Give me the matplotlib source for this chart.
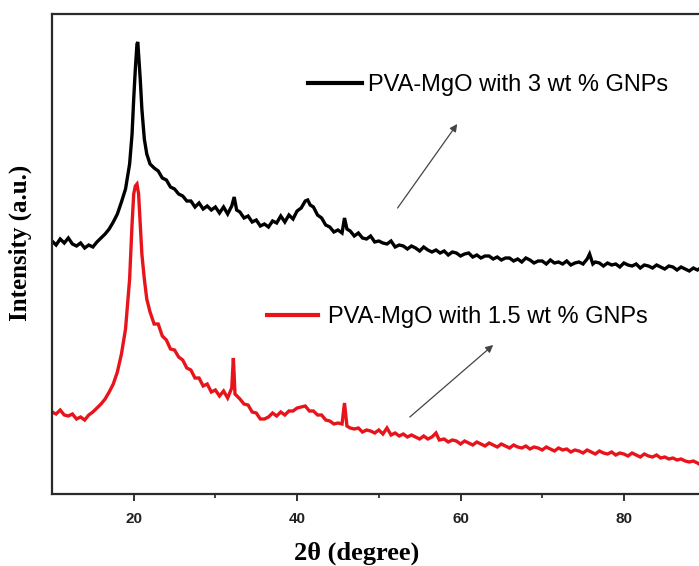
import matplotlib
matplotlib.use("Agg")
import matplotlib.pyplot as plt
from matplotlib.lines import Line2D

# ---------------- data ----------------
two_theta_3 = [10, 10.5, 11, 11.5, 12, 12.5, 13, 13.5, 14, 14.5, 15, 15.5, 16, 16.5, 17, 17.5,
               18, 18.5, 19, 19.5, 19.8, 20.0, 20.2, 20.4, 20.5, 20.6, 20.8, 21.0, 21.3, 21.6,
               22.0, 22.5, 23.0, 23.5, 24.0, 24.5, 25.0, 25.5, 26.0, 26.5, 27.0, 27.5, 28.0,
               28.5, 29.0, 29.5, 30.0, 30.5, 31.0, 31.5, 32.0, 32.3, 32.6, 33.0, 33.5, 34.0,
               34.5, 35.0, 35.5, 36.0, 36.5, 37.0, 37.5, 38.0, 38.5, 39.0, 39.5, 40.0, 40.5,
               41.0, 41.3, 41.6, 42.0, 42.5, 43.0, 43.5, 44.0, 44.5, 45.0, 45.5, 45.8, 46.1,
               46.5, 47.0, 47.5,
               48, 48.5, 49, 49.5, 50, 50.5, 51, 51.5, 52, 52.5, 53, 53.5, 54, 54.5, 55, 55.5,
               56, 56.5, 57, 57.5, 58, 58.5, 59, 59.5, 60, 60.5, 61, 61.5, 62, 62.5, 63, 63.5,
               64, 64.5, 65, 65.5, 66, 66.5, 67, 67.5, 68, 68.5, 69, 69.5, 70, 70.5, 71, 71.5,
               72, 72.5, 73, 73.5, 74, 74.5, 75, 75.5, 75.8, 76.2, 76.5, 77, 77.5, 78, 78.5,
               79, 79.5, 80, 80.5, 81, 81.5, 82, 82.5, 83, 83.5, 84, 84.5, 85, 85.5, 86, 86.5,
               87, 87.5, 88, 88.5, 89, 89.2]
intensity_3 = [253, 249, 255, 251, 256, 250, 248, 251, 246, 249, 247, 252, 256, 260, 265, 272,
               280, 292, 305, 330, 360, 395, 425, 450, 452, 440, 415, 385, 355, 340,
               330, 326, 323, 316, 314, 307, 305, 300, 298, 293, 293, 287, 291,
               285, 288, 284, 287, 281, 287, 280, 288, 297, 284, 282, 276, 278,
               272, 274, 268, 270, 267, 273, 271, 278, 272, 279, 275, 283, 286,
               293, 294, 289, 287, 279, 276, 269, 267, 262, 264, 261, 276, 265,
               263, 258, 261,
               256, 255, 258, 252, 253, 251, 250, 253, 247, 249, 248, 245, 248, 246, 243, 247,
               244, 242, 244, 241, 243, 239, 242, 241, 238, 240, 241, 237, 239, 236, 238, 238,
               235, 237, 234, 236, 236, 233, 235, 232, 236, 234, 231, 233, 233, 230, 234, 231,
               232, 230, 233, 229, 231, 232, 230, 235, 240, 230, 232, 231, 228, 231, 229,
               230, 227, 231, 229, 228, 230, 226, 229, 228, 226, 229, 227, 225, 228, 227, 224,
               227, 225, 223, 226, 224, 225]

two_theta_15 = [10, 10.5, 11, 11.5, 12, 12.5, 13, 13.5, 14, 14.5, 15, 15.5, 16, 16.5, 17, 17.5,
                18, 18.5, 19, 19.5, 19.8, 20.0, 20.2, 20.4, 20.6, 20.8, 21.0, 21.3, 21.6,
                22.0, 22.5, 23.0, 23.5, 24.0, 24.5, 25.0, 25.5, 26.0, 26.5, 27.0, 27.5, 28.0,
                28.5, 29.0, 29.5, 30.0, 30.5, 31.0, 31.5, 32.0, 32.2, 32.4, 33.0, 33.5, 34.0,
                34.5, 35.0, 35.5, 36.0, 36.5, 37.0, 37.5, 38.0, 38.5, 39.0, 39.5, 40.0, 40.5,
                41.0, 41.5, 42.0, 42.5, 43.0, 43.5, 44.0, 44.5, 45.0, 45.5, 45.8, 46.1, 46.5,
                47, 47.5, 48, 48.5, 49, 49.5, 50, 50.5, 51, 51.5, 52, 52.5, 53, 53.5, 54, 54.5,
                55, 55.5, 56, 56.5, 57.0, 57.4, 58, 58.5, 59, 59.5, 60, 60.5, 61, 61.5, 62, 62.5,
                63, 63.5, 64, 64.5, 65, 65.5, 66, 66.5, 67, 67.5, 68, 68.5, 69, 69.5, 70, 70.5,
                71, 71.5, 72, 72.5, 73, 73.5, 74, 74.5, 75, 75.5, 76, 76.5, 77, 77.5, 78, 78.5,
                79, 79.5, 80, 80.5, 81, 81.5, 82, 82.5, 83, 83.5, 84, 84.5, 85, 85.5, 86, 86.5,
                87, 87.5, 88, 88.5, 89, 89.2]
intensity_15 = [82, 80, 84, 79, 78, 80, 75, 77, 74, 79, 82, 86, 90, 95, 102, 110,
                122, 140, 165, 215, 270, 300, 308, 310, 300, 270, 240, 215, 195,
                182, 170, 170, 158, 154, 145, 144, 137, 134, 126, 124, 116, 116,
                108, 110, 102, 104, 98, 103, 96, 106, 136, 100, 95, 90, 89,
                82, 81, 75, 75, 77, 81, 78, 82, 79, 83, 83, 86, 87,
                88, 83, 83, 79, 79, 74, 73, 70, 71, 70, 91, 68, 66,
                65, 66, 62, 64, 63, 61, 64, 60, 66, 59, 61, 58, 60, 57, 59, 57,
                55, 58, 55, 57, 61, 54, 55, 52, 54, 53, 50, 53, 51, 49, 52, 50,
                48, 51, 49, 47, 50, 48, 46, 49, 47, 46, 48, 45, 47, 46, 44, 47,
                45, 43, 46, 44, 45, 42, 44, 43, 41, 44, 42, 40, 43, 41, 40, 42,
                39, 41, 40, 38, 41, 39, 37, 40, 38, 37, 39, 36, 37, 35, 36, 34,
                35, 33, 32, 33, 31, 30]

label_3 = "PVA-MgO with 3 wt % GNPs"
label_15 = "PVA-MgO with 1.5 wt % GNPs"
xticks_major = [20, 40, 60, 80]
xticks_minor = [30, 50, 70]

# ---------------- figure ----------------
fig = plt.figure(figsize=(6.99, 5.66), dpi=100)
ax = fig.add_axes([52 / 699, 1 - 494 / 566, 653.6 / 699, 480 / 566])

black = "#000000"
red = "#e8141c"
ax.plot(two_theta_3, intensity_3, color=black, lw=2.4, solid_joinstyle="miter")
ax.plot(two_theta_15, intensity_15, color=red, lw=2.4, solid_joinstyle="miter")

ax.set_xlim(10, 90)
ax.set_ylim(0, 480)
ax.set_yticks([])
ax.set_xticks(xticks_major)
ax.set_xticks(xticks_minor, minor=True)
ax.tick_params(axis="x", which="major", direction="out", length=5, width=1.3,
               pad=8, labelsize=11, colors="#222222")
ax.tick_params(axis="x", which="minor", direction="out", length=3, width=1.2, colors="#222222")
for lab in ax.get_xticklabels():
    lab.set_fontweight("bold")
    lab.set_fontfamily("Liberation Sans")

for side in ["top", "bottom", "left", "right"]:
    ax.spines[side].set_linewidth(1.6)
    ax.spines[side].set_color("#2a2a2a")

ax.set_xlabel("2θ (degree)", fontsize=19, fontweight="bold", family="Liberation Serif")
ax.xaxis.label.set_va("center")
ax.xaxis.set_label_coords((357 - 52) / 653.6, (494 - 553) / 480)
ax.set_ylabel("Intensity (a.u.)", fontsize=18, fontweight="bold", family="Liberation Serif")
ax.yaxis.label.set_va("center")
ax.yaxis.set_label_coords((20 - 52) / 653.6, (494 - 243) / 480)

# legends placed as in the reference
leg1 = ax.legend([Line2D([], [], color=black, lw=3)], [label_3], loc="center left",
                 bbox_to_anchor=((308 - 52) / 653.6, (494 - 85) / 480), frameon=False,
                 prop={"family": "Liberation Sans", "size": 17}, handlelength=2.3,
                 handletextpad=0.25, borderpad=0, borderaxespad=0)
ax.add_artist(leg1)
leg2 = ax.legend([Line2D([], [], color=red, lw=3)], [label_15], loc="center left",
                 bbox_to_anchor=((267 - 52) / 653.6, (494 - 317) / 480), frameon=False,
                 prop={"family": "Liberation Sans", "size": 17}, handlelength=2.15,
                 handletextpad=0.45, borderpad=0, borderaxespad=0)

arrow_kw = dict(arrowstyle="-|>", color="#444444", lw=0.9, mutation_scale=11,
                shrinkA=0, shrinkB=0)
ax.annotate("", xy=(59.6, 370), xytext=(52.3, 286), arrowprops=arrow_kw)
ax.annotate("", xy=(64.0, 149), xytext=(53.8, 77), arrowprops=arrow_kw)

fig.savefig("out.png", dpi=100)
